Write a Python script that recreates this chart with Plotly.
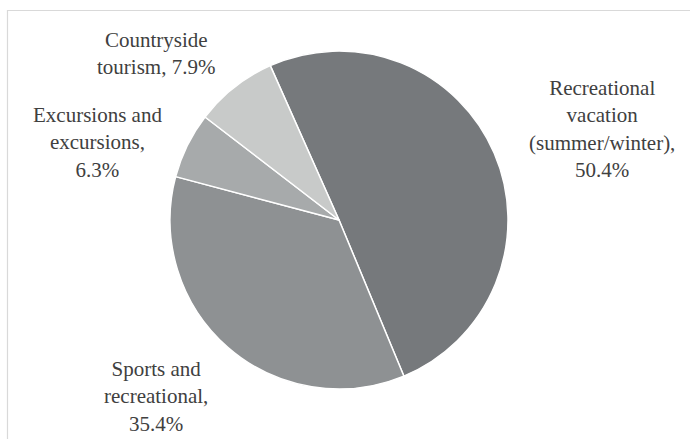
import plotly.graph_objects as go

categories = ["Recreational vacation (summer/winter)", "Sports and recreational",
              "Excursions and excursions", "Countryside tourism"]
values = [50.4, 35.4, 6.3, 7.9]
label_lines = [
    ["Recreational", "vacation", "(summer/winter),"],
    ["Sports and", "recreational,"],
    ["Excursions and", "excursions,"],
    ["Countryside", "tourism,"],
]
colors = ["#76797c", "#8e9193", "#a7aaab", "#c8cac9"]

W, H = 690, 439
cx, cy, r = 339, 220, 169

fig = go.Figure()
fig.add_trace(go.Pie(
    labels=categories,
    values=values,
    sort=False,
    direction="clockwise",
    rotation=-24,
    textinfo="none",
    hoverinfo="label+percent",
    marker=dict(colors=colors, line=dict(color="white", width=1.5)),
    domain=dict(x=[(cx - r) / W, (cx + r) / W], y=[1 - (cy + r) / H, 1 - (cy - r) / H]),
    showlegend=False,
))

# label block centres (pixels) and join mode
label_pos = [(602, 129, "br"), (156, 396, "br"), (97, 142, "br"), (156, 54, "inline")]
for lines, v, (lx, ly, mode) in zip(label_lines, values, label_pos):
    if mode == "inline":
        txt = "<br>".join(lines[:-1]) + "<br>" + lines[-1] + f" {v:.1f}%"
    else:
        txt = "<br>".join(lines) + f"<br>{v:.1f}%"
    fig.add_annotation(
        x=lx / W, y=1 - ly / H, xref="paper", yref="paper",
        text=txt, showarrow=False, xanchor="center", yanchor="middle",
        align="center",
        font=dict(family="'Liberation Serif', 'Times New Roman', serif", size=21, color="#404040"),
    )

# frame (cropped: only top and left edges visible)
fig.add_shape(
    type="path", xref="paper", yref="paper",
    path=f"M {7.5/W} 0 L {7.5/W} {1-10.5/H} L 1.01 {1-10.5/H}",
    line=dict(color="#d9d9d9", width=1.2),
)

fig.update_layout(
    width=W, height=H,
    margin=dict(l=0, r=0, t=0, b=0),
    paper_bgcolor="white", plot_bgcolor="white",
    font=dict(family="'Liberation Serif', 'Times New Roman', serif"),
)
fig.write_html("out.html")
